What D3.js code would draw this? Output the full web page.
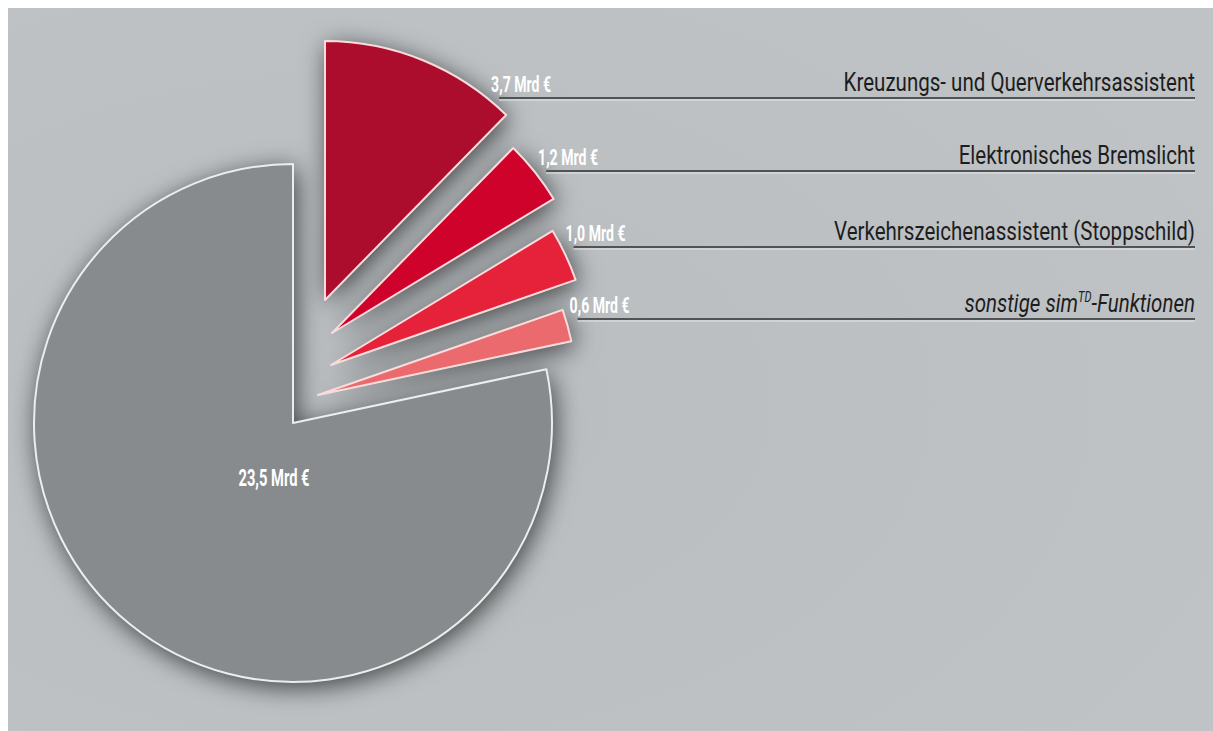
<!DOCTYPE html>
<html lang="de">
<head>
<meta charset="utf-8">
<script src="https://cdn.jsdelivr.net/npm/d3@7"></script>
<style>
  html, body { margin: 0; padding: 0; background: #fff; }
  svg { display: block; }
  .val { font-family: Roboto, "Liberation Sans", sans-serif; font-weight: bold; fill: #fff; }
  .cat { font-family: Roboto, "Liberation Sans", sans-serif; fill: #1d1d1d; }
</style>
</head>
<body>
<div id="chart"></div>
<script>
// data
const categories = [
  "Kreuzungs- und Querverkehrsassistent",
  "Elektronisches Bremslicht",
  "Verkehrszeichenassistent (Stoppschild)",
  "sonstige sim-Funktionen",
  "Rest"
];
const values = [3.7, 1.2, 1.0, 0.6, 23.5];
const valueLabels = ["3,7 Mrd €", "1,2 Mrd €", "1,0 Mrd €", "0,6 Mrd €", "23,5 Mrd €"];

// layout
const width = 1213, height = 731;
const cx = 293, cy = 423, radius = 259;
const explode = [[32, -123], [39, -90], [38, -58], [25, -28], [0, 0]];
const lineY = [98, 171, 247, 319];
const rightX = 1195;
const colors = ["#ad0d2c", "#cf022c", "#e6223a", "#ea6a6e", "#888b8e"];

// condensed look: no condensed face installed, so squeeze horizontally
const catScale = 0.79;
const valScale = 0.64;

const svg = d3.select("#chart").append("svg")
  .attr("width", width)
  .attr("height", height);

const defs = svg.append("defs");

const bg = defs.append("radialGradient")
  .attr("id", "bg")
  .attr("cx", 0.3).attr("cy", 0.55).attr("r", 0.8);
bg.append("stop").attr("offset", "0%").attr("stop-color", "#b9bdc0");
bg.append("stop").attr("offset", "100%").attr("stop-color", "#bfc3c6");

const shadow = defs.append("filter")
  .attr("id", "shadow")
  .attr("x", "-30%").attr("y", "-30%")
  .attr("width", "160%").attr("height", "160%");
shadow.append("feDropShadow")
  .attr("dx", 3).attr("dy", 5)
  .attr("stdDeviation", 13)
  .attr("flood-color", "#000")
  .attr("flood-opacity", 0.68);

svg.append("rect")
  .attr("x", 8).attr("y", 8)
  .attr("width", width - 8).attr("height", height - 8)
  .attr("fill", "url(#bg)");

const pie = d3.pie().sort(null).value(d => d).startAngle(0).endAngle(2 * Math.PI);
const arcs = pie(values);
const arc = d3.arc().innerRadius(0).outerRadius(radius);

const g = svg.append("g").attr("transform", `translate(${cx},${cy})`);

// shadows first, then slices on top
g.selectAll("path.sh")
  .data(arcs)
  .join("path")
  .attr("class", "sh")
  .attr("transform", (d, i) => `translate(${explode[i][0]},${explode[i][1]})`)
  .attr("d", arc)
  .attr("fill", "#666")
  .attr("filter", "url(#shadow)");

g.selectAll("path.slice")
  .data(arcs)
  .join("path")
  .attr("class", "slice")
  .attr("transform", (d, i) => `translate(${explode[i][0]},${explode[i][1]})`)
  .attr("d", arc)
  .attr("fill", (d, i) => colors[i])
  .attr("stroke", (d, i) => i === 4 ? "#eceded" : "#f8dcdc")
  .attr("stroke-width", 2)
  .attr("stroke-linejoin", "round");

// leader lines and labels for the red slices
arcs.slice(0, 4).forEach((d, i) => {
  const vx = cx + explode[i][0];
  const vy = cy + explode[i][1];
  const dy = lineY[i] - vy;
  const arcX = vx + Math.sqrt(radius * radius - dy * dy);
  const x0 = arcX + 12;

  svg.append("line")
    .attr("x1", x0).attr("x2", rightX)
    .attr("y1", lineY[i] + 2).attr("y2", lineY[i] + 2)
    .attr("stroke", "#e4e6e8").attr("stroke-width", 1);
  svg.append("line")
    .attr("x1", x0).attr("x2", rightX)
    .attr("y1", lineY[i]).attr("y2", lineY[i])
    .attr("stroke", "#505254").attr("stroke-width", 2);

  svg.append("text")
    .attr("class", "val")
    .attr("transform", `translate(${x0 - 8},${lineY[i] - 6}) scale(${valScale},1)`)
    .attr("font-size", 22)
    .text(valueLabels[i]);

  const t = svg.append("text")
    .attr("class", "cat")
    .attr("transform", `translate(${rightX},${lineY[i] - 7}) scale(${catScale},1)`)
    .attr("text-anchor", "end")
    .attr("font-size", 26);

  if (i === 3) {
    t.attr("font-style", "italic");
    t.append("tspan").text("sonstige sim");
    t.append("tspan").attr("font-size", 14).attr("dy", -10).text("TD");
    t.append("tspan").attr("dy", 10).text("-Funktionen");
  } else {
    t.text(categories[i]);
  }
});

// label inside the grey slice
svg.append("text")
  .attr("class", "val")
  .attr("transform", `translate(${cx - 19},${cy + 63}) scale(${valScale},1)`)
  .attr("text-anchor", "middle")
  .attr("font-size", 23)
  .text(valueLabels[4]);
</script>
</body>
</html>
